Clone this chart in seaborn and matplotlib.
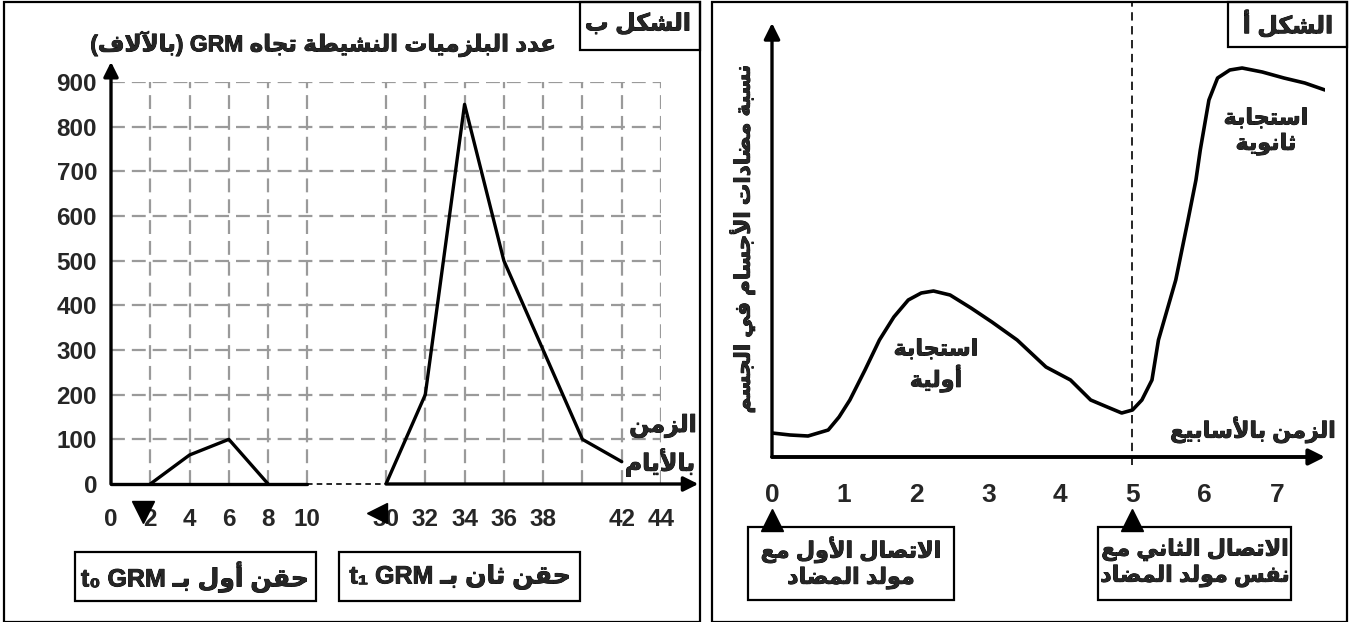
import matplotlib
matplotlib.use("Agg")
import matplotlib.pyplot as plt
import matplotlib.patheffects as pe
from matplotlib.patches import Rectangle
import seaborn as sns
import pandas as pd

# --------------------------
# Data
# --------------------------
# panel "b": plasma cells (thousands) vs days, x drawn on an index scale with a break 10 -> 30
day_slots = [0, 2, 4, 6, 8, 10, None, 30, 32, 34, 36, 38, 40, 42, 44]
day_labels = ["0", "2", "4", "6", "8", "10", "", "30", "32", "34", "36", "38", "", "42", "44"]
first_days = [2, 4, 6, 8]
first_cells = [0, 65, 100, 0]
second_days = [30, 32, 34, 36, 38, 40, 42]
second_cells = [0, 200, 850, 500, 300, 100, 50]
cell_ticks = [0, 100, 200, 300, 400, 500, 600, 700, 800, 900]

# panel "a": antibody level (arbitrary units) vs weeks
weeks = [0.0, 0.25, 0.5, 0.78, 0.93, 1.08, 1.29, 1.49, 1.69, 1.89, 2.07, 2.24, 2.47,
         2.76, 3.05, 3.4, 3.8, 4.14, 4.42, 4.65, 4.85, 5.0, 5.13, 5.27, 5.36, 5.6,
         5.77, 5.88, 5.94, 6.06, 6.18, 6.35, 6.52, 6.8, 7.1, 7.39, 7.67]
antibody = [24, 22, 21, 27, 40, 57, 87, 117, 140, 157, 164, 166, 162,
            149, 135, 117, 90, 77, 57, 50, 44, 47, 57, 77, 117, 177,
            237, 277, 307, 357, 379, 387, 389, 385, 379, 374, 367]
week_ticks = [0, 1, 2, 3, 4, 5, 6, 7]
contacts = [0, 5]

# --------------------------
# Arabic shaping (matplotlib has no complex text layout)
# --------------------------
AR_FORMS = {
    'ا': (0xFE8D, False), 'أ': (0xFE83, False), 'آ': (0xFE81, False), 'إ': (0xFE87, False),
    'ب': (0xFE8F, True), 'ة': (0xFE93, False), 'ت': (0xFE95, True), 'ث': (0xFE99, True),
    'ج': (0xFE9D, True), 'ح': (0xFEA1, True), 'خ': (0xFEA5, True), 'د': (0xFEA9, False),
    'ذ': (0xFEAB, False), 'ر': (0xFEAD, False), 'ز': (0xFEAF, False), 'س': (0xFEB1, True),
    'ش': (0xFEB5, True), 'ص': (0xFEB9, True), 'ض': (0xFEBD, True), 'ط': (0xFEC1, True),
    'ع': (0xFEC9, True), 'ف': (0xFED1, True), 'ق': (0xFED5, True), 'ك': (0xFED9, True),
    'ل': (0xFEDD, True), 'م': (0xFEE1, True), 'ن': (0xFEE5, True), 'ه': (0xFEE9, True),
    'و': (0xFEED, False), 'ي': (0xFEF1, True),
}
LAM_ALEF = {'آ': 0xFEF5, 'أ': 0xFEF7, 'إ': 0xFEF9, 'ا': 0xFEFB}
TATWEEL = 'ـ'
MIRROR = {'(': ')', ')': '('}


def joinable(c):
    return c == TATWEEL or c in AR_FORMS


def joins_next(c):
    return c == TATWEEL or (c in AR_FORMS and AR_FORMS[c][1])


def shape_word(w):
    out = []
    prev = None
    i = 0
    while i < len(w):
        c = w[i]
        nxt = w[i + 1] if i + 1 < len(w) else None
        conn_prev = prev is not None and joins_next(prev)
        if c == 'ل' and nxt in LAM_ALEF:
            out.append(chr(LAM_ALEF[nxt] + (1 if conn_prev else 0)))
            prev = nxt
            i += 2
            continue
        if c in AR_FORMS:
            base, dual = AR_FORMS[c]
            conn_next = dual and nxt is not None and joinable(nxt)
            if conn_prev and conn_next:
                out.append(chr(base + 3))
            elif conn_prev:
                out.append(chr(base + 1))
            elif conn_next:
                out.append(chr(base + 2))
            else:
                out.append(chr(base))
        else:
            out.append(c)
        prev = c
        i += 1
    return ''.join(out)


def ar(text):
    lines = []
    for line in text.split('\n'):
        vis = []
        for w in reversed(line.split(' ')):
            if any(joinable(c) for c in w):
                s = shape_word(w)[::-1]
                w = ''.join(MIRROR.get(c, c) for c in s)
            vis.append(w)
        lines.append(' '.join(vis))
    return '\n'.join(lines)


# --------------------------
# Figure setup
# --------------------------
sns.set_style("white")
plt.rcParams['font.family'] = ['Liberation Sans', 'DejaVu Sans']
plt.rcParams['font.weight'] = 'bold'
plt.rcParams['lines.scale_dashes'] = False

W, H = 1352, 622
fig = plt.figure(figsize=(W / 100, H / 100), dpi=100)
BOLD = [pe.withStroke(linewidth=0.6, foreground='black')]


def box(x0, y0, x1, y1, lw=1.6):
    fig.add_artist(Rectangle((x0 / W, 1 - y1 / H), (x1 - x0) / W, (y1 - y0) / H,
                             transform=fig.transFigure, fill=False, lw=lw, ec='black'))


def ftext(x, y, s, size=15, **kw):
    fig.text(x / W, 1 - y / H, s, fontsize=size, fontweight='bold', ha='center', va='center',
             linespacing=1.2, path_effects=BOLD, **kw)


# panel borders
box(4, 2, 700, 622)
box(712, 2, 1347, 622)

# --------------------------
# Panel b (left)
# --------------------------
pos = {d: i for i, d in enumerate(day_slots) if d is not None}
axb = fig.add_axes([111 / W, 1 - 484 / H, 550 / W, 402 / H])
axb.set_xlim(0, 14)
axb.set_ylim(0, 900)
for s in axb.spines.values():
    s.set_visible(False)

# dashed grey grid
grid_x = [i for i, d in enumerate(day_slots) if d not in (None, 0)]
axb.hlines(cell_ticks[1:], 0, 14, colors='#9a9a9a', lw=1.6, linestyles=(0, (10, 5)), zorder=1)
axb.vlines(grid_x, 0, 900, colors='#9a9a9a', lw=1.6, linestyles=(0, (10, 5)), zorder=1)

# data lines
df1 = pd.DataFrame({'x': [pos[d] for d in first_days], 'y': first_cells})
df2 = pd.DataFrame({'x': [pos[d] for d in second_days], 'y': second_cells})
sns.lineplot(data=df1, x='x', y='y', color='black', lw=2.4, ax=axb, zorder=3)
sns.lineplot(data=df2, x='x', y='y', color='black', lw=2.4, ax=axb, zorder=3)

# axes with break
axb.plot([0, pos[10]], [0, 0], color='black', lw=2.4, clip_on=False, zorder=4)
axb.plot([pos[10], pos[30]], [0, 0], color='black', lw=1.2, linestyle=(0, (4, 3)),
         clip_on=False, zorder=4)
axb.annotate('', xy=(14.95, 0), xytext=(pos[30], 0), annotation_clip=False,
             arrowprops=dict(arrowstyle='-|>', color='black', lw=2.4, mutation_scale=22,
                             shrinkA=0, shrinkB=0))
axb.annotate('', xy=(0, 945), xytext=(0, 0), annotation_clip=False,
             arrowprops=dict(arrowstyle='-|>', color='black', lw=2.4, mutation_scale=22,
                             shrinkA=0, shrinkB=0))

tick_pos = [i for i, d in enumerate(day_slots) if d is not None]
axb.set_xticks(tick_pos)
axb.set_xticklabels([day_labels[i] for i in tick_pos])
axb.set_yticks(cell_ticks)
axb.tick_params(axis='x', direction='out', length=9, width=2.2, pad=8, labelsize=17.5)
axb.tick_params(axis='y', direction='out', length=7, width=2.2, pad=3, labelsize=17.5)
for lab in axb.get_xticklabels() + axb.get_yticklabels():
    lab.set_fontweight('bold')
axb.set_xlabel('')
axb.set_ylabel('')

# injection markers
axb.plot([pos[2] - 0.18], [-63], marker='v', ms=16, color='black', clip_on=False, zorder=5)
axb.plot([pos[30] - 0.22], [-64], marker='<', ms=15, color='black', clip_on=False, zorder=5)

# texts
box(580, 2, 700, 50)
ftext(638, 24, ar('الشكل ب'), size=17)
ftext(322, 44, ar('عدد البلزميات النشيطة تجاه GRM (بالآلاف)'), size=16.5)
ftext(663, 426, ar('الزمن'), size=17)
ftext(660, 462, ar('بالأيام'), size=17)
box(75, 552, 316, 601)
ftext(195, 577, ar('حقن أول بـ GRM t₀'), size=18)
box(339, 552, 580, 601)
ftext(460, 577, ar('حقن ثان بـ GRM t₁'), size=18)

# --------------------------
# Panel a (right)
# --------------------------
axa = fig.add_axes([772 / W, 1 - 457 / H, 553 / W, 434 / H])
axa.set_xlim(0, 7.67)
axa.set_ylim(0, 434)
for s in axa.spines.values():
    s.set_visible(False)

sns.lineplot(x=weeks, y=antibody, color='black', lw=2.6, ax=axa, zorder=3, sort=False)

axa.annotate('', xy=(7.67, 0), xytext=(0, 0), annotation_clip=False,
             arrowprops=dict(arrowstyle='-|>', color='black', lw=2.8, mutation_scale=24,
                             shrinkA=0, shrinkB=0))
axa.annotate('', xy=(0, 434), xytext=(0, 0), annotation_clip=False,
             arrowprops=dict(arrowstyle='-|>', color='black', lw=2.4, mutation_scale=24,
                             shrinkA=0, shrinkB=0))

# second contact marker line
axa.plot([contacts[1], contacts[1]], [-8, 455], color='black', lw=1.2,
         linestyle=(0, (6, 4)), clip_on=False, zorder=2)

axa.set_xticks(week_ticks)
axa.set_xticklabels([str(w) for w in week_ticks])
axa.set_yticks([])
axa.tick_params(axis='x', direction='out', length=10, width=2.4, pad=9, labelsize=19)
for lab in axa.get_xticklabels():
    lab.set_fontweight('bold')

axa.plot(contacts, [-63, -63], linestyle='none', marker='^', ms=16, color='black', clip_on=False)

box(1228, 2, 1347, 47)
ftext(1288, 24, ar('الشكل أ'), size=17)
fig.text(742 / W, 1 - 240 / H, ar('نسبة مضادات الأجسام في الجسم'), rotation=90,
         fontsize=15.5, fontweight='bold', ha='center', va='center', path_effects=BOLD)
ftext(1253, 430, ar('الزمن بالأسابيع'), size=16)
ftext(936, 366, ar('استجابة\nأولية'), size=16)
ftext(1266, 132, ar('استجابة\nثانوية'), size=16)
box(748, 527, 954, 600)
ftext(851, 563, ar('الاتصال الأول مع\nمولد المضاد'), size=16)
box(1098, 527, 1291, 600)
ftext(1195, 563, ar('الاتصال الثاني مع\nنفس مولد المضاد'), size=16)

fig.savefig("out.png", dpi=100)
